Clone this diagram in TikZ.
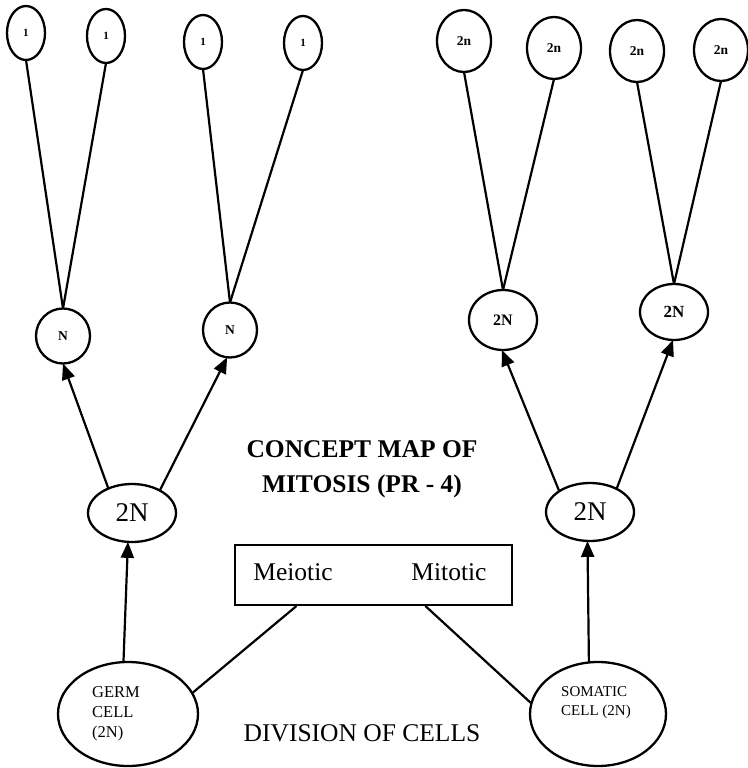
\documentclass[tikz,border=0pt]{standalone}
\usepackage{fontspec}
\setmainfont{Liberation Serif}
\usetikzlibrary{arrows.meta,calc,shapes.geometric}

\begin{document}
\begin{tikzpicture}[x=1pt,y=-1pt,
    cell/.style={draw, ellipse, line width=2.3pt, inner sep=0pt, outer sep=0pt},
    link/.style={line width=2.2pt},
    growth/.style={line width=2.2pt, -{Triangle[length=16pt,width=13pt]}},
    labtiny/.style={font=\fontsize{11}{11}\selectfont\bfseries},
    labsmall/.style={font=\fontsize{13.5}{13.5}\selectfont\bfseries},
    labbig/.style={font=\fontsize{25.5}{35}\selectfont}]
  \useasboundingbox (0,0) rectangle (747,768);

  % haploid line (germ cell)
  \node[cell, minimum width=38, minimum height=54, labtiny] (e1) at (26,33) {1};
  \node[cell, minimum width=38, minimum height=54, labtiny] (e2) at (106,36) {1};
  \node[cell, minimum width=38, minimum height=54, labtiny] (e3) at (203,42) {1};
  \node[cell, minimum width=38, minimum height=54, labtiny] (e4) at (303,43) {1};
  \node[cell, minimum width=54, minimum height=55, labsmall] (n1) at (63,336) {N};
  \node[cell, minimum width=54, minimum height=55, labsmall] (n2) at (230,330) {N};
  \node[cell, minimum width=88, minimum height=58, font=\fontsize{27}{27}\selectfont] (l2n) at (132,513) {2N};

  % diploid line (somatic cell)
  \node[cell, minimum width=54, minimum height=62, labsmall] (f1) at (464,41) {2n};
  \node[cell, minimum width=54, minimum height=62, labsmall] (f2) at (554,48) {2n};
  \node[cell, minimum width=54, minimum height=62, labsmall] (f3) at (637,51) {2n};
  \node[cell, minimum width=54, minimum height=62, labsmall] (f4) at (721,50) {2n};
  \node[cell, minimum width=68, minimum height=60, font=\fontsize{16}{16}\selectfont\bfseries] (m1) at (503,320) {2N};
  \node[cell, minimum width=68, minimum height=56, font=\fontsize{17}{17}\selectfont\bfseries] (m2) at (674,312) {2N};
  \node[cell, minimum width=88, minimum height=58, font=\fontsize{27}{27}\selectfont] (r2n) at (590,512) {2N};

  % parent cells
  \node[cell, minimum width=140, minimum height=104] (germ) at (128,714) {};
  \node[align=left, font=\fontsize{16.5}{20}\selectfont, inner sep=0pt] (germtxt) at (116,714) {GERM\\CELL\\(2N)};
  \node[cell, minimum width=136, minimum height=104] (soma) at (598,714) {};
  \node[align=left, font=\fontsize{15}{19}\selectfont, inner sep=0pt] (somatxt) at (596,703) {SOMATIC\\CELL (2N)};

  % types of division
  \node[draw, line width=2pt, minimum width=277, minimum height=60, inner sep=0pt] (box) at (373.5,575) {};
  \node[labbig] (meio) at (293,572) {Meiotic};
  \node[labbig] (mito) at (449,572) {Mitotic};

  \node[align=center, font=\fontsize{25.5}{35}\selectfont\bfseries] (title) at (362,469) {CONCEPT MAP OF\\MITOSIS (PR - 4)};
  \node[labbig] (divn) at (362,733) {DIVISION OF CELLS};

  % connectors
  \draw[link] (e1.south) -- (n1.north);
  \draw[link] (e2.south) -- (n1.north);
  \draw[link] (e3.south) -- (n2.north);
  \draw[link] (e4.south) -- (n2.north);
  \draw[link] (f1.south) -- (m1.north);
  \draw[link] (f2.south) -- (m1.north);
  \draw[link] (f3.south) -- (m2.north);
  \draw[link] (f4.south) -- (m2.north);

  \draw[growth] (l2n.134) -- (n1.270);
  \draw[growth] (l2n.39) -- (n2.264);
  \draw[growth] (r2n.146) -- (m1.268);
  \draw[growth] (r2n.41) -- (m2.268);
  \draw[growth] (germ.95) -- (l2n.262);
  \draw[growth] (soma.100) -- (r2n.265);

  \draw[link] ($(box.south west)!0.224!(box.south east)$) -- (germ.18);
  \draw[link] ($(box.south west)!0.686!(box.south east)$) -- (soma.171);
\end{tikzpicture}
\end{document}
